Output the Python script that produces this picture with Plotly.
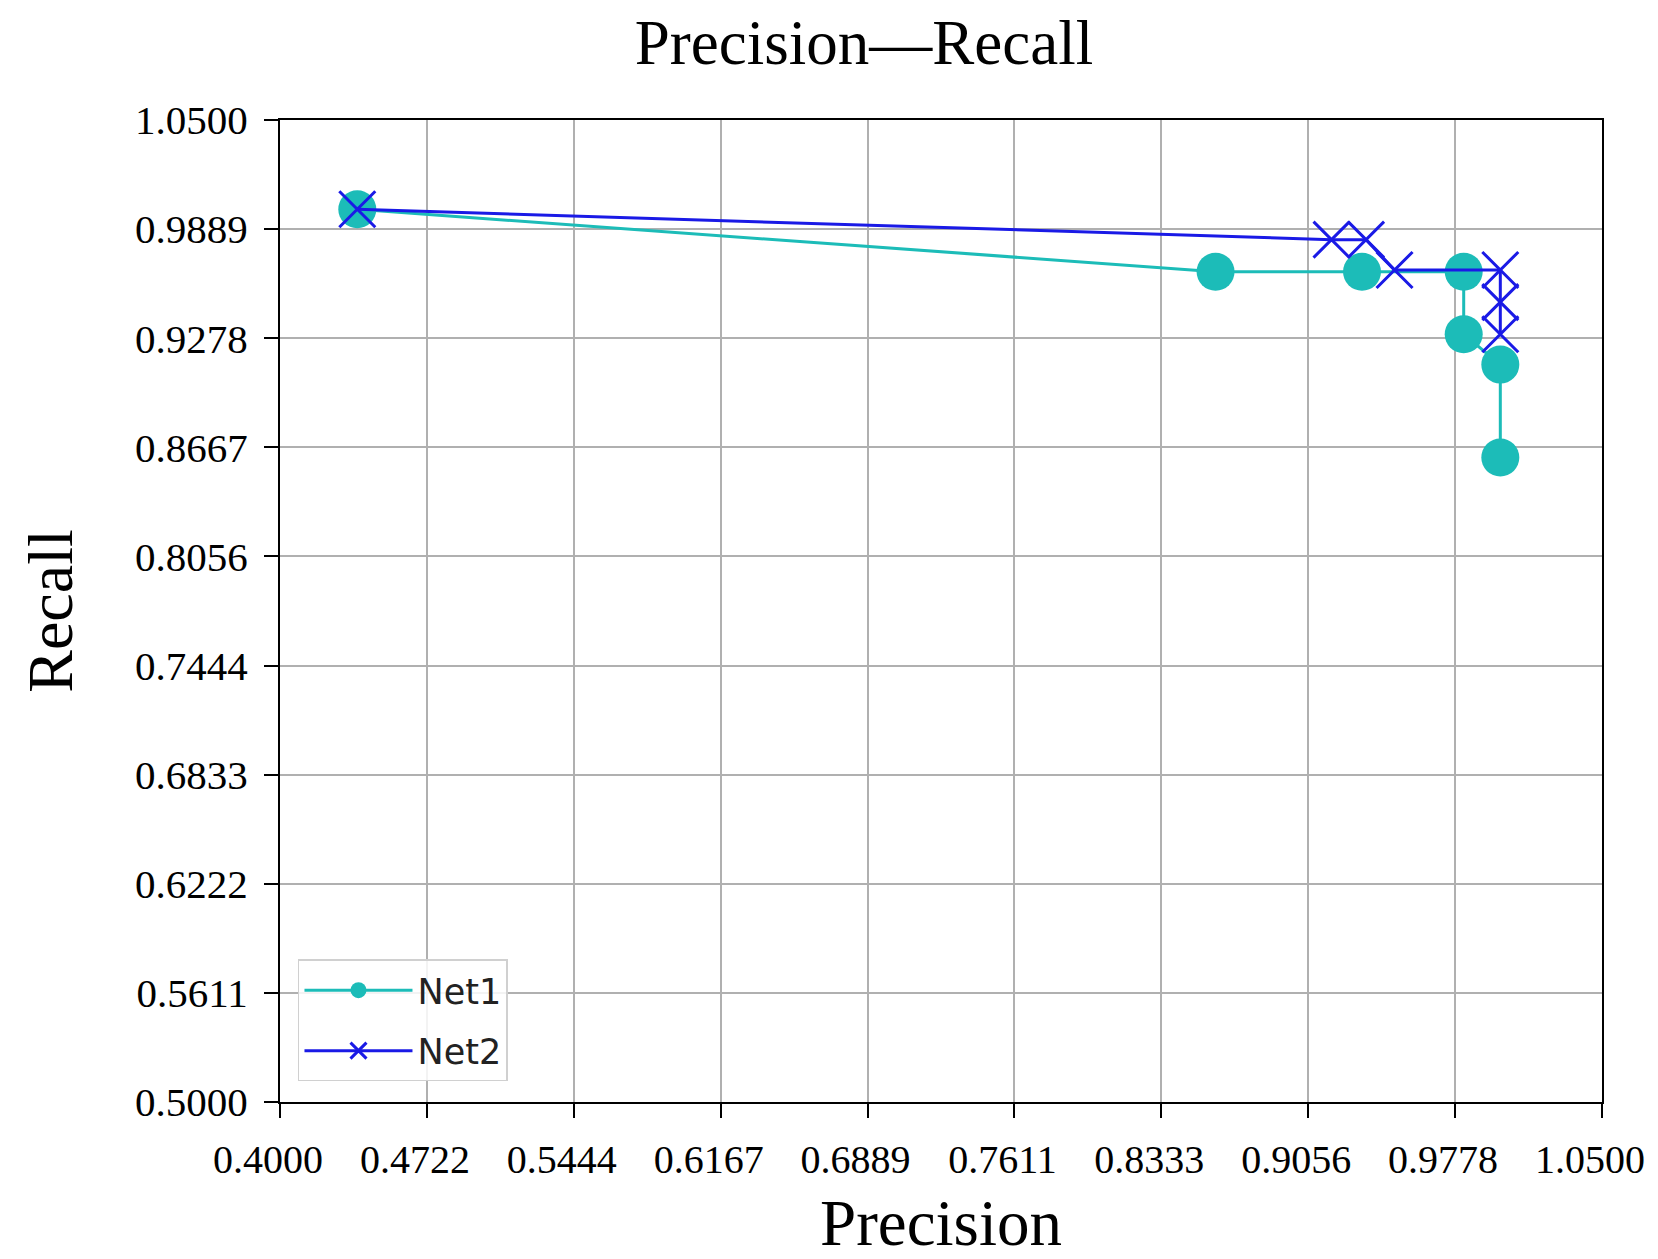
import plotly.graph_objects as go

# Data
net1_precision = [0.438, 0.860, 0.932, 0.982, 0.982, 1.000, 1.000]
net1_recall = [1.000, 0.965, 0.965, 0.965, 0.930, 0.913, 0.861]

net2_precision = [0.438, 0.917, 0.934, 0.948, 1.000, 1.000, 1.000]
net2_recall = [1.000, 0.983, 0.983, 0.966, 0.966, 0.948, 0.930]

x_tickvals = [0.4, 0.47222, 0.54444, 0.61667, 0.68889, 0.76111, 0.83333, 0.90556, 0.97778, 1.05]
x_ticktext = ["0.4000", "0.4722", "0.5444", "0.6167", "0.6889", "0.7611", "0.8333", "0.9056", "0.9778", "1.0500"]
y_tickvals = [0.5, 0.56111, 0.62222, 0.68333, 0.74444, 0.80556, 0.86667, 0.92778, 0.98889, 1.05]
y_ticktext = ["0.5000", "0.5611", "0.6222", "0.6833", "0.7444", "0.8056", "0.8667", "0.9278", "0.9889", "1.0500"]

CYAN = "#1cbcb8"
BLUE = "#1a1ae6"

fig = go.Figure()
fig.add_trace(go.Scatter(
    x=net1_precision, y=net1_recall, name="Net1", mode="lines+markers",
    legendgroup="net1",
    line=dict(color=CYAN, width=3),
    marker=dict(symbol="circle", size=38, color=CYAN),
))
fig.add_trace(go.Scatter(
    x=net2_precision, y=net2_recall, name="Net2", mode="lines+markers",
    legendgroup="net2",
    line=dict(color=BLUE, width=3),
    marker=dict(symbol="x-thin", size=36, color=BLUE, line=dict(color=BLUE, width=3)),
))

serif = "Liberation Serif, Times New Roman, serif"
axis_common = dict(
    showgrid=True, gridcolor="#b0b0b0", gridwidth=1.5,
    showline=True, linecolor="black", linewidth=2, mirror=True,
    ticks="outside", ticklen=14, tickwidth=2, tickcolor="black",
    zeroline=False, automargin=False, ticklabeloverflow="allow",
)

W, H = 1650, 1251
fig.update_layout(
    width=W, height=H,
    margin=dict(l=272, r=56, t=112, b=157),
    paper_bgcolor="white", plot_bgcolor="white",
    title=dict(text="Precision\u2014Recall", x=856 / W, xref="container", xanchor="center",
               y=1 - 34 / H, yref="container", yanchor="middle",
               font=dict(family=serif, size=63, color="black")),
    xaxis=dict(range=[0.4, 1.05], tickvals=x_tickvals, ticktext=x_ticktext,
               ticklabelstandoff=7, ticklabelshift=-12,
               tickfont=dict(family=serif, size=40, color="black"),
               title=dict(text="Precision", font=dict(family=serif, size=65, color="black"), standoff=24),
               **axis_common),
    yaxis=dict(range=[0.5, 1.05], tickvals=y_tickvals, ticktext=y_ticktext,
               ticklabelstandoff=8,
               tickfont=dict(family=serif, size=41, color="black"),
               title=dict(text="Recall", font=dict(family=serif, size=64, color="black"), standoff=42),
               **axis_common),
    legend=dict(x=0.0136, y=0.021, xanchor="left", yanchor="bottom",
                bgcolor="rgba(255,255,255,0.85)", bordercolor="#d0d0d0", borderwidth=1.5,
                font=dict(family="DejaVu Sans", size=35, color="#222"),
                itemwidth=108, tracegroupgap=12),
    showlegend=True,
)

fig.write_html("out.html")
